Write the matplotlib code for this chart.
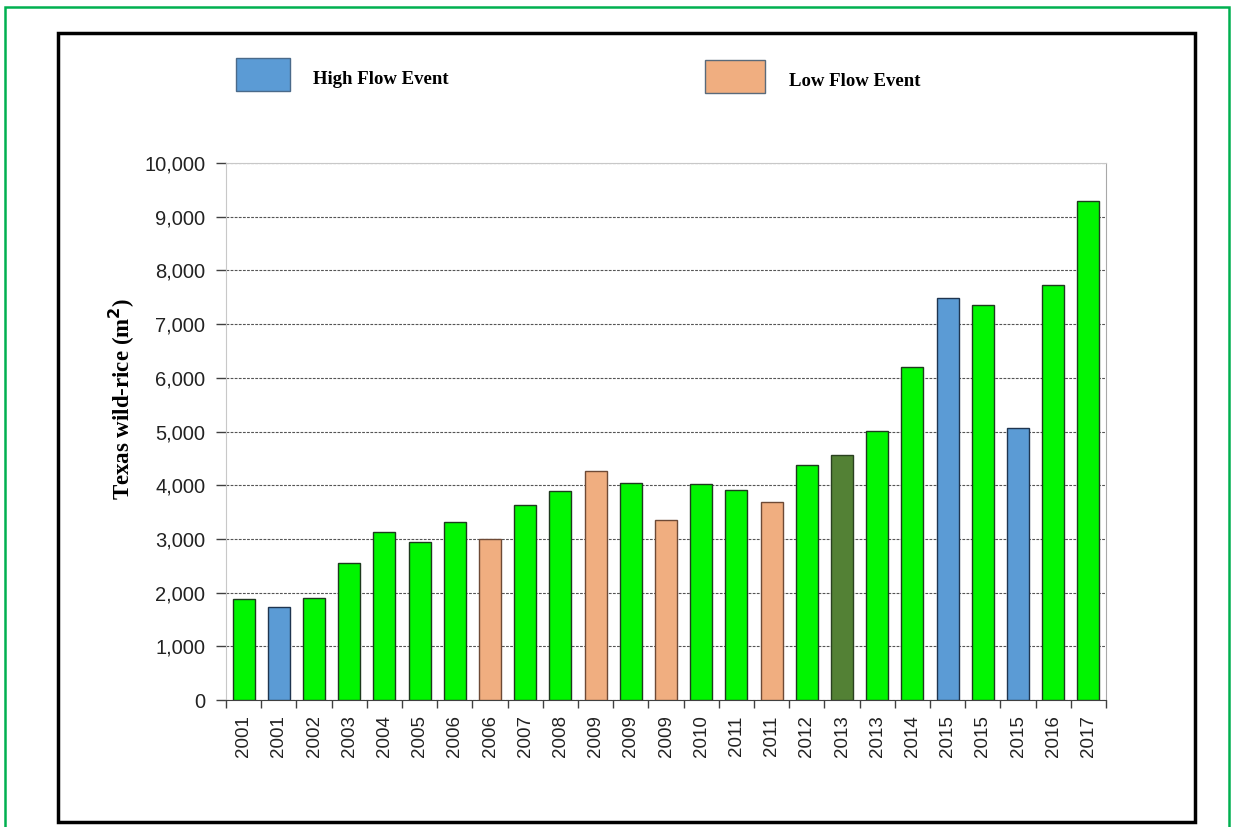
import matplotlib.pyplot as plt
from matplotlib.patches import Rectangle

years = ['2001', '2001', '2002', '2003', '2004', '2005', '2006', '2006', '2007',
         '2008', '2009', '2009', '2009', '2010', '2011', '2011', '2012', '2013',
         '2013', '2014', '2015', '2015', '2015', '2016', '2017']
area = [1875, 1740, 1900, 2550, 3130, 2950, 3315, 2990, 3625, 3885, 4260, 4040,
        3345, 4020, 3905, 3680, 4370, 4555, 5015, 6195, 7490, 7355, 5070, 7720, 9300]
kind = ['base', 'high', 'base', 'base', 'base', 'base', 'base', 'low', 'base',
        'base', 'low', 'base', 'low', 'base', 'base', 'low', 'base', 'dark',
        'base', 'base', 'high', 'base', 'high', 'base', 'base']
yticks = [0, 1000, 2000, 3000, 4000, 5000, 6000, 7000, 8000, 9000, 10000]

fill = {'base': '#00f500', 'high': '#5b9bd5', 'low': '#f0ae80', 'dark': '#538135'}
edge = {'base': '#1e3a1e', 'high': '#1f3550', 'low': '#6e4a36', 'dark': '#2a4020'}

W, H = 1233, 827
fig = plt.figure(figsize=(W/100, H/100), dpi=100)

# outer green border and black frame
fig.add_artist(Rectangle((5/W, -0.02), 1224/W, 1 - 7/H + 0.02, transform=fig.transFigure,
                         fill=False, edgecolor='#00b050', lw=1.8))
fig.add_artist(Rectangle((58/W, 1 - 822/H), 1137/W, 789/H, transform=fig.transFigure,
                         fill=False, edgecolor='black', lw=2.5))

ax = fig.add_axes([226/W, 1 - 700/H, 880/W, 537/H])

x = range(len(years))
ax.bar(x, area, width=0.63, color=[fill[k] for k in kind],
       edgecolor=[edge[k] for k in kind], linewidth=1.0, zorder=3)

ax.set_xlim(-0.5, len(years) - 0.5)
ax.set_ylim(0, 10000)
ax.set_yticks(yticks)
ax.set_yticklabels(['{:,}'.format(v) for v in yticks], fontsize=14.5,
                   family='Liberation Sans', color='#222222')
ax.set_xticks(list(x))
ax.set_xticklabels(years, rotation=90, fontsize=13.5, family='Liberation Sans',
                   color='#222222')
ax.set_xticks([i - 0.5 for i in range(len(years) + 1)], minor=True)
ax.tick_params(axis='x', which='major', length=0, pad=11)
ax.tick_params(axis='x', which='minor', length=6, color='#404040', width=1)
ax.tick_params(axis='y', length=7, color='#404040', width=1, pad=8)

ax.yaxis.grid(True, linestyle=(0, (2.5, 1.2)), color='#555555', lw=0.8, zorder=1)
ax.set_axisbelow(True)
for side in ['left', 'top']:
    ax.spines[side].set_color('#c8c8c8')
ax.spines['right'].set_color('#a8a8a8')
ax.spines['bottom'].set_color('#404040')

ax.set_ylabel('Texas wild-rice (m$^\\mathbf{2}$)', fontsize=16.5, fontweight='bold',
              family='Liberation Serif')
ax.yaxis.set_label_coords(-0.101, 0.56)

# legend boxes placed above the plot
fig.add_artist(Rectangle((236/W, 1 - 91/H), 54/W, 33/H, transform=fig.transFigure,
                         facecolor=fill['high'], edgecolor='#4a6a8a', lw=1))
fig.text(313/W, 1 - 79/H, 'High Flow Event', fontsize=13.5, fontweight='bold',
         family='Liberation Serif', va='center')
fig.add_artist(Rectangle((705/W, 1 - 93/H), 60/W, 33/H, transform=fig.transFigure,
                         facecolor=fill['low'], edgecolor='#5a6a7a', lw=1))
fig.text(789/W, 1 - 82/H, 'Low Flow Event', fontsize=13.5, fontweight='bold',
         family='Liberation Serif', va='center')

plt.savefig('out.png', dpi=100)
